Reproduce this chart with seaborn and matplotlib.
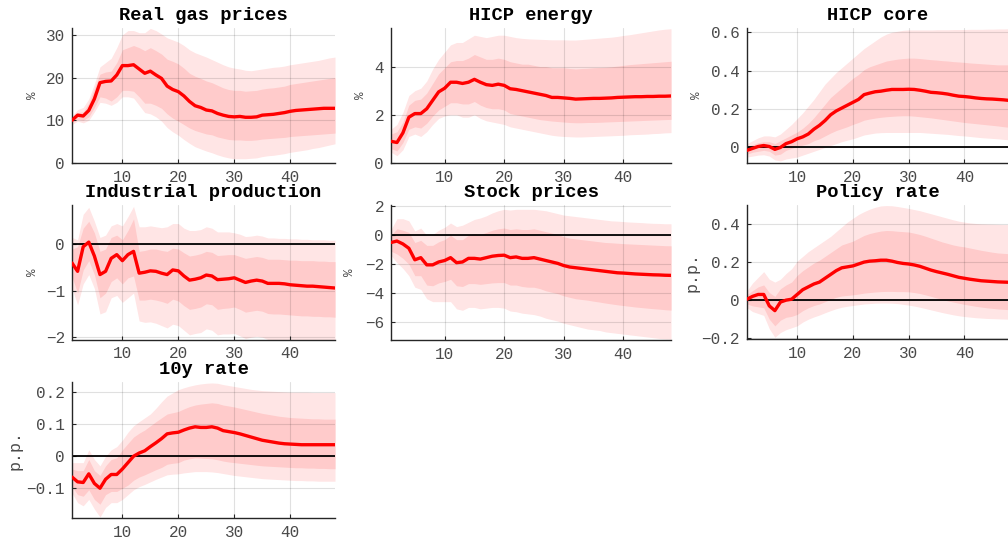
import numpy as np
import pandas as pd
import matplotlib
matplotlib.use("Agg")
import matplotlib.pyplot as plt
import seaborn as sns

# ---------------------------------------------------------------- data
horizon = list(range(1, 49))

gas_med = [10.0, 11.2, 11.0, 12.3, 15.0, 18.8, 19.1, 19.2, 20.6, 22.8,
           22.8, 23.0, 22.0, 21.0, 21.5, 20.6, 19.8, 18.0, 17.2, 16.7,
           15.7, 14.4, 13.4, 13.0, 12.4, 12.2, 11.6, 11.2, 10.9, 10.8,
           10.9, 10.7, 10.7, 10.8, 11.2, 11.3, 11.4, 11.6, 11.8, 12.1,
           12.3, 12.4, 12.5, 12.6, 12.7, 12.8, 12.8, 12.8]
gas_in_hi = [10.5, 11.8, 12.0, 14.0, 17.5, 20.8, 21.3, 21.5, 23.5, 26.5,
             27.0, 27.5, 27.0, 26.3, 27.0, 26.3, 25.5, 24.3, 23.8, 23.2,
             22.2, 21.0, 20.3, 19.8, 19.2, 18.8, 18.2, 17.6, 17.2, 17.0,
             17.0, 16.8, 16.9, 17.0, 17.3, 17.5, 17.6, 17.8, 18.0, 18.4,
             18.6, 18.8, 19.0, 19.2, 19.4, 19.6, 19.8, 20.0]
gas_in_lo = [9.5, 10.2, 10.0, 10.8, 13.0, 15.5, 15.2, 14.5, 15.5, 17.0,
             17.0, 16.8, 15.5, 14.0, 14.0, 13.5, 12.8, 11.5, 10.5, 9.8,
             9.0, 8.2, 7.6, 7.2, 6.8, 6.6, 6.1, 5.8, 5.5, 5.4,
             5.4, 5.3, 5.3, 5.4, 5.6, 5.7, 5.8, 5.9, 6.0, 6.2,
             6.3, 6.4, 6.5, 6.6, 6.7, 6.8, 6.9, 7.0]
gas_out_hi = [11.0, 12.5, 13.0, 15.0, 18.5, 22.5, 23.5, 24.5, 27.0, 30.0,
              31.0, 31.0, 30.5, 30.5, 31.5, 31.0, 30.2, 29.3, 28.8, 28.3,
              27.5, 26.5, 25.8, 25.3, 24.8, 24.2, 23.6, 23.0, 22.5, 22.2,
              22.0, 21.7, 21.6, 21.8, 22.0, 22.2, 22.4, 22.5, 22.7, 23.0,
              23.2, 23.4, 23.6, 23.8, 24.0, 24.3, 24.6, 24.8]
gas_out_lo = [9.0, 9.8, 9.4, 10.0, 12.0, 14.2, 14.0, 13.5, 14.2, 15.5,
              15.5, 15.2, 13.5, 11.8, 11.5, 10.8, 9.8, 8.3, 7.3, 6.5,
              5.5, 4.6, 3.8, 3.3, 2.8, 2.4, 1.9, 1.5, 1.2, 1.0,
              1.0, 1.0, 1.1, 1.2, 1.5, 1.7, 1.8, 2.0, 2.2, 2.5,
              2.7, 2.9, 3.1, 3.4, 3.6, 3.9, 4.2, 4.5]

en_med = [0.90, 0.85, 1.25, 1.90, 2.05, 2.05, 2.25, 2.60, 2.95, 3.10,
          3.35, 3.35, 3.30, 3.35, 3.47, 3.35, 3.25, 3.22, 3.27, 3.22,
          3.08, 3.05, 3.00, 2.95, 2.90, 2.85, 2.80, 2.72, 2.72, 2.70,
          2.68, 2.65, 2.66, 2.67, 2.68, 2.68, 2.69, 2.70, 2.72, 2.73,
          2.74, 2.75, 2.75, 2.76, 2.76, 2.77, 2.77, 2.78]
en_in_hi = [1.20, 1.30, 1.70, 2.40, 2.60, 2.65, 2.90, 3.30, 3.70, 3.95,
            4.20, 4.25, 4.25, 4.35, 4.50, 4.40, 4.30, 4.30, 4.35, 4.30,
            4.20, 4.15, 4.10, 4.10, 4.05, 4.00, 4.00, 3.95, 3.95, 3.95,
            3.92, 3.90, 3.92, 3.93, 3.95, 3.96, 3.97, 3.99, 4.02, 4.05,
            4.08, 4.10, 4.12, 4.14, 4.16, 4.18, 4.20, 4.22]
en_in_lo = [0.60, 0.50, 0.85, 1.40, 1.50, 1.45, 1.65, 1.95, 2.20, 2.35,
            2.50, 2.50, 2.45, 2.45, 2.55, 2.40, 2.30, 2.25, 2.25, 2.20,
            2.05, 2.00, 1.95, 1.90, 1.85, 1.80, 1.77, 1.74, 1.72, 1.70,
            1.68, 1.67, 1.67, 1.68, 1.68, 1.69, 1.70, 1.71, 1.72, 1.73,
            1.74, 1.75, 1.76, 1.77, 1.78, 1.79, 1.80, 1.81]
en_out_hi = [1.40, 1.60, 2.10, 2.80, 3.00, 3.10, 3.40, 3.90, 4.30, 4.60,
             4.90, 5.00, 5.00, 5.15, 5.30, 5.25, 5.20, 5.25, 5.30, 5.30,
             5.25, 5.20, 5.17, 5.15, 5.14, 5.13, 5.12, 5.11, 5.11, 5.11,
             5.10, 5.10, 5.12, 5.14, 5.16, 5.18, 5.20, 5.22, 5.25, 5.29,
             5.32, 5.36, 5.40, 5.44, 5.48, 5.52, 5.55, 5.57]
en_out_lo = [0.45, 0.30, 0.55, 1.10, 1.20, 1.10, 1.30, 1.60, 1.85, 1.95,
             2.00, 2.00, 1.90, 1.90, 2.00, 1.85, 1.75, 1.70, 1.65, 1.60,
             1.50, 1.45, 1.40, 1.35, 1.30, 1.25, 1.20, 1.15, 1.12, 1.10,
             1.09, 1.08, 1.08, 1.09, 1.10, 1.11, 1.12, 1.13, 1.14, 1.15,
             1.17, 1.18, 1.19, 1.20, 1.22, 1.23, 1.25, 1.26]

core_med = [-0.015, -0.005, 0.005, 0.010, 0.005, -0.010, 0.000, 0.020, 0.030, 0.045,
            0.055, 0.070, 0.095, 0.115, 0.140, 0.170, 0.190, 0.205, 0.220, 0.235,
            0.250, 0.275, 0.283, 0.290, 0.293, 0.298, 0.302, 0.302, 0.302, 0.303,
            0.302, 0.298, 0.293, 0.287, 0.285, 0.282, 0.278, 0.272, 0.267, 0.265,
            0.262, 0.258, 0.255, 0.253, 0.252, 0.250, 0.248, 0.245]
core_in_hi = [0.005, 0.015, 0.025, 0.030, 0.030, 0.020, 0.035, 0.050, 0.065, 0.080,
              0.100, 0.125, 0.155, 0.190, 0.225, 0.260, 0.285, 0.310, 0.335, 0.360,
              0.380, 0.405, 0.420, 0.430, 0.440, 0.450, 0.455, 0.460, 0.463, 0.465,
              0.465, 0.463, 0.460, 0.457, 0.455, 0.452, 0.450, 0.447, 0.445, 0.443,
              0.440, 0.438, 0.436, 0.434, 0.432, 0.430, 0.430, 0.430]
core_in_lo = [-0.035, -0.025, -0.020, -0.015, -0.020, -0.040, -0.035, -0.015, -0.005, 0.005,
              0.012, 0.020, 0.035, 0.045, 0.060, 0.075, 0.088, 0.098, 0.108, 0.120,
              0.130, 0.142, 0.148, 0.153, 0.157, 0.160, 0.162, 0.164, 0.165, 0.165,
              0.163, 0.160, 0.157, 0.154, 0.150, 0.146, 0.142, 0.138, 0.134, 0.130,
              0.127, 0.124, 0.121, 0.118, 0.115, 0.112, 0.108, 0.105]
core_out_hi = [0.020, 0.035, 0.050, 0.060, 0.060, 0.055, 0.070, 0.095, 0.120, 0.150,
               0.180, 0.215, 0.250, 0.290, 0.330, 0.360, 0.390, 0.415, 0.440, 0.465,
               0.490, 0.515, 0.535, 0.555, 0.575, 0.590, 0.600, 0.605, 0.610, 0.612,
               0.612, 0.612, 0.612, 0.612, 0.613, 0.613, 0.613, 0.614, 0.614, 0.614,
               0.615, 0.615, 0.615, 0.616, 0.616, 0.617, 0.617, 0.618]
core_out_lo = [-0.050, -0.045, -0.040, -0.038, -0.045, -0.065, -0.070, -0.060, -0.055, -0.050,
               -0.040, -0.030, -0.020, -0.010, 0.000, 0.010, 0.020, 0.030, 0.038, 0.045,
               0.055, 0.065, 0.070, 0.075, 0.077, 0.078, 0.078, 0.078, 0.078, 0.078,
               0.078, 0.078, 0.076, 0.074, 0.072, 0.070, 0.068, 0.065, 0.062, 0.060,
               0.057, 0.054, 0.051, 0.049, 0.047, 0.045, 0.042, 0.040]

ip_med = [-0.40, -0.58, -0.05, 0.05, -0.25, -0.65, -0.58, -0.30, -0.22, -0.35,
          -0.22, -0.15, -0.62, -0.60, -0.57, -0.58, -0.62, -0.65, -0.55, -0.57,
          -0.68, -0.77, -0.75, -0.72, -0.66, -0.68, -0.76, -0.75, -0.74, -0.72,
          -0.77, -0.82, -0.79, -0.77, -0.79, -0.84, -0.84, -0.84, -0.85, -0.87,
          -0.88, -0.89, -0.90, -0.90, -0.91, -0.92, -0.93, -0.94]
ip_in_hi = [-0.10, -0.05, 0.35, 0.50, 0.25, -0.15, -0.10, 0.15, 0.20, 0.10,
            0.30, 0.55, -0.15, -0.13, -0.10, -0.10, -0.13, -0.15, -0.08, -0.10,
            -0.18, -0.25, -0.23, -0.20, -0.15, -0.17, -0.24, -0.23, -0.22, -0.22,
            -0.26, -0.30, -0.28, -0.26, -0.28, -0.32, -0.32, -0.32, -0.33, -0.34,
            -0.34, -0.35, -0.35, -0.35, -0.36, -0.36, -0.37, -0.37]
ip_in_lo = [-0.70, -1.05, -0.55, -0.35, -0.65, -1.15, -1.05, -0.80, -0.72, -0.85,
            -0.72, -0.68, -1.20, -1.20, -1.18, -1.20, -1.23, -1.27, -1.18, -1.22,
            -1.32, -1.40, -1.38, -1.35, -1.28, -1.30, -1.40, -1.38, -1.37, -1.35,
            -1.40, -1.46, -1.44, -1.42, -1.44, -1.49, -1.50, -1.50, -1.51, -1.52,
            -1.53, -1.54, -1.54, -1.55, -1.55, -1.56, -1.56, -1.57]
ip_out_hi = [0.15, 0.10, 0.65, 0.80, 0.50, 0.15, 0.20, 0.40, 0.45, 0.40,
             0.60, 0.82, 0.38, 0.38, 0.40, 0.38, 0.36, 0.38, 0.45, 0.45,
             0.35, 0.30, 0.30, 0.32, 0.38, 0.35, 0.27, 0.27, 0.27, 0.25,
             0.22, 0.17, 0.18, 0.20, 0.18, 0.14, 0.14, 0.13, 0.13, 0.12,
             0.12, 0.11, 0.11, 0.10, 0.10, 0.10, 0.09, 0.09]
ip_out_lo = [-0.95, -1.30, -0.85, -0.65, -0.95, -1.50, -1.45, -1.15, -1.10, -1.25,
             -1.15, -1.05, -1.65, -1.68, -1.67, -1.70, -1.75, -1.80, -1.72, -1.75,
             -1.85, -1.95, -1.92, -1.90, -1.82, -1.85, -1.95, -1.93, -1.93, -1.92,
             -1.97, -2.03, -2.00, -1.98, -2.00, -2.05, -2.06, -2.07, -2.08, -2.09,
             -2.10, -2.11, -2.12, -2.13, -2.14, -2.15, -2.16, -2.17]

st_med = [-0.50, -0.40, -0.60, -0.90, -1.70, -1.55, -2.05, -2.05, -1.85, -1.75,
          -1.55, -1.90, -1.85, -1.60, -1.60, -1.65, -1.55, -1.45, -1.40, -1.38,
          -1.55, -1.50, -1.60, -1.60, -1.55, -1.65, -1.75, -1.85, -1.95, -2.10,
          -2.20, -2.25, -2.30, -2.35, -2.40, -2.45, -2.50, -2.55, -2.60, -2.62,
          -2.65, -2.68, -2.70, -2.72, -2.74, -2.75, -2.77, -2.78]
st_in_hi = [0.00, 0.45, 0.35, 0.20, -0.50, -0.35, -0.70, -0.70, -0.45, -0.30,
            0.00, -0.30, -0.30, 0.00, 0.10, 0.05, 0.20, 0.35, 0.45, 0.50,
            0.40, 0.45, 0.40, 0.40, 0.45, 0.35, 0.25, 0.15, 0.05, -0.10,
            -0.20, -0.25, -0.30, -0.35, -0.40, -0.45, -0.50, -0.52, -0.55, -0.58,
            -0.60, -0.62, -0.64, -0.66, -0.68, -0.70, -0.72, -0.73]
st_in_lo = [-1.10, -1.30, -1.60, -2.00, -2.80, -2.80, -3.45, -3.50, -3.30, -3.20,
            -3.05, -3.50, -3.55, -3.35, -3.35, -3.40, -3.35, -3.30, -3.28, -3.28,
            -3.45, -3.45, -3.55, -3.60, -3.60, -3.70, -3.85, -3.95, -4.05, -4.20,
            -4.30, -4.40, -4.45, -4.50, -4.57, -4.63, -4.70, -4.76, -4.82, -4.87,
            -4.92, -4.97, -5.01, -5.05, -5.09, -5.12, -5.16, -5.19]
st_out_hi = [0.40, 1.15, 1.15, 1.00, 0.30, 0.50, 0.00, 0.05, 0.35, 0.55,
             0.85, 0.60, 0.70, 0.90, 1.10, 1.20, 1.35, 1.55, 1.70, 1.80,
             1.75, 1.80, 1.80, 1.80, 1.80, 1.75, 1.70, 1.60, 1.50, 1.40,
             1.35, 1.30, 1.25, 1.20, 1.15, 1.10, 1.05, 1.00, 0.98, 0.95,
             0.92, 0.90, 0.88, 0.85, 0.83, 0.82, 0.80, 0.80]
st_out_lo = [-1.40, -1.90, -2.30, -2.80, -3.60, -3.75, -4.40, -4.60, -4.60, -4.60,
             -4.60, -5.10, -5.20, -5.00, -5.00, -5.10, -5.05, -5.00, -5.00, -5.05,
             -5.25, -5.30, -5.40, -5.45, -5.50, -5.60, -5.75, -5.85, -5.95, -6.10,
             -6.20, -6.30, -6.40, -6.50, -6.55, -6.60, -6.70, -6.75, -6.80, -6.85,
             -6.90, -6.95, -7.00, -7.05, -7.10, -7.15, -7.18, -7.20]

pr_med = [0.005, 0.020, 0.030, 0.030, -0.030, -0.055, -0.010, 0.000, 0.005, 0.030,
          0.055, 0.070, 0.085, 0.095, 0.115, 0.135, 0.155, 0.170, 0.175, 0.180,
          0.190, 0.200, 0.205, 0.207, 0.210, 0.210, 0.205, 0.198, 0.193, 0.190,
          0.185, 0.178, 0.168, 0.158, 0.150, 0.143, 0.136, 0.128, 0.120, 0.115,
          0.110, 0.106, 0.102, 0.100, 0.098, 0.096, 0.095, 0.094]
pr_in_hi = [0.030, 0.050, 0.070, 0.080, 0.040, 0.020, 0.060, 0.080, 0.095, 0.130,
            0.155, 0.175, 0.195, 0.210, 0.230, 0.250, 0.270, 0.290, 0.300, 0.310,
            0.325, 0.340, 0.350, 0.357, 0.363, 0.366, 0.365, 0.362, 0.360, 0.358,
            0.352, 0.345, 0.336, 0.326, 0.316, 0.306, 0.298, 0.290, 0.284, 0.280,
            0.274, 0.268, 0.262, 0.257, 0.252, 0.248, 0.246, 0.244]
pr_in_lo = [-0.020, -0.030, -0.035, -0.040, -0.100, -0.135, -0.105, -0.090, -0.085, -0.075,
            -0.055, -0.040, -0.028, -0.020, -0.008, 0.005, 0.015, 0.022, 0.025, 0.028,
            0.032, 0.037, 0.040, 0.043, 0.045, 0.046, 0.046, 0.045, 0.045, 0.044,
            0.040, 0.035, 0.028, 0.020, 0.012, 0.004, -0.004, -0.010, -0.016, -0.022,
            -0.027, -0.032, -0.036, -0.040, -0.043, -0.046, -0.048, -0.050]
pr_out_hi = [0.050, 0.090, 0.120, 0.150, 0.110, 0.095, 0.110, 0.140, 0.165, 0.205,
             0.230, 0.255, 0.275, 0.295, 0.315, 0.335, 0.360, 0.385, 0.410, 0.430,
             0.450, 0.465, 0.478, 0.488, 0.495, 0.497, 0.496, 0.492, 0.487, 0.482,
             0.476, 0.470, 0.462, 0.454, 0.446, 0.438, 0.430, 0.422, 0.415, 0.410,
             0.406, 0.403, 0.401, 0.400, 0.399, 0.398, 0.397, 0.397]
pr_out_lo = [-0.040, -0.060, -0.070, -0.080, -0.150, -0.195, -0.170, -0.155, -0.145, -0.135,
             -0.115, -0.100, -0.088, -0.078, -0.066, -0.055, -0.045, -0.037, -0.032, -0.028,
             -0.024, -0.020, -0.018, -0.016, -0.015, -0.015, -0.016, -0.018, -0.022, -0.026,
             -0.031, -0.037, -0.044, -0.051, -0.058, -0.065, -0.071, -0.077, -0.082, -0.086,
             -0.089, -0.092, -0.094, -0.096, -0.097, -0.098, -0.099, -0.100]

ty_med = [-0.065, -0.080, -0.082, -0.055, -0.085, -0.100, -0.072, -0.057, -0.057, -0.040,
          -0.020, 0.000, 0.010, 0.017, 0.030, 0.042, 0.055, 0.070, 0.073, 0.075,
          0.082, 0.088, 0.092, 0.090, 0.090, 0.092, 0.088, 0.080, 0.077, 0.074,
          0.070, 0.065, 0.060, 0.055, 0.050, 0.047, 0.044, 0.041, 0.039, 0.038,
          0.037, 0.036, 0.036, 0.036, 0.036, 0.036, 0.036, 0.036]
ty_in_hi = [-0.040, -0.045, -0.045, -0.010, -0.045, -0.060, -0.030, -0.010, -0.005, 0.020,
            0.040, 0.060, 0.072, 0.082, 0.095, 0.108, 0.120, 0.132, 0.136, 0.140,
            0.148, 0.155, 0.160, 0.163, 0.165, 0.167, 0.165, 0.160, 0.157, 0.154,
            0.150, 0.146, 0.142, 0.138, 0.134, 0.131, 0.128, 0.125, 0.123, 0.121,
            0.120, 0.119, 0.118, 0.117, 0.117, 0.116, 0.116, 0.116]
ty_in_lo = [-0.095, -0.120, -0.125, -0.105, -0.135, -0.150, -0.120, -0.110, -0.110, -0.100,
            -0.090, -0.075, -0.065, -0.058, -0.050, -0.042, -0.035, -0.025, -0.022, -0.020,
            -0.012, -0.008, -0.005, -0.006, -0.007, -0.008, -0.011, -0.015, -0.018, -0.020,
            -0.022, -0.024, -0.026, -0.028, -0.030, -0.031, -0.032, -0.033, -0.034, -0.035,
            -0.036, -0.036, -0.037, -0.037, -0.038, -0.038, -0.039, -0.039]
ty_out_hi = [-0.020, -0.020, -0.020, 0.020, -0.010, -0.030, 0.000, 0.020, 0.030, 0.050,
             0.075, 0.095, 0.108, 0.120, 0.132, 0.150, 0.170, 0.188, 0.198, 0.208,
             0.214, 0.219, 0.223, 0.226, 0.228, 0.229, 0.228, 0.224, 0.221, 0.218,
             0.215, 0.212, 0.209, 0.207, 0.205, 0.204, 0.203, 0.202, 0.201, 0.200,
             0.200, 0.200, 0.200, 0.199, 0.199, 0.199, 0.199, 0.199]
ty_out_lo = [-0.115, -0.145, -0.155, -0.135, -0.165, -0.190, -0.160, -0.145, -0.145, -0.135,
             -0.120, -0.105, -0.095, -0.088, -0.080, -0.072, -0.065, -0.058, -0.056, -0.055,
             -0.052, -0.050, -0.048, -0.048, -0.048, -0.049, -0.051, -0.054, -0.057, -0.060,
             -0.062, -0.064, -0.066, -0.068, -0.070, -0.071, -0.072, -0.073, -0.074, -0.075,
             -0.076, -0.076, -0.077, -0.077, -0.078, -0.078, -0.078, -0.078]

titles = ["Real gas prices", "HICP energy", "HICP core",
          "Industrial production", "Stock prices", "Policy rate", "10y rate"]
units = ["%", "%", "%", "%", "%", "p.p.", "p.p."]
yticks = [[0, 10, 20, 30], [0, 2, 4], [0, 0.2, 0.4, 0.6],
          [-2, -1, 0], [-6, -4, -2, 0, 2], [-0.2, 0, 0.2, 0.4],
          [-0.1, 0, 0.1, 0.2]]
xticks = [10, 20, 30, 40]

series = [
    (gas_med, gas_in_lo, gas_in_hi, gas_out_lo, gas_out_hi),
    (en_med, en_in_lo, en_in_hi, en_out_lo, en_out_hi),
    (core_med, core_in_lo, core_in_hi, core_out_lo, core_out_hi),
    (ip_med, ip_in_lo, ip_in_hi, ip_out_lo, ip_out_hi),
    (st_med, st_in_lo, st_in_hi, st_out_lo, st_out_hi),
    (pr_med, pr_in_lo, pr_in_hi, pr_out_lo, pr_out_hi),
    (ty_med, ty_in_lo, ty_in_hi, ty_out_lo, ty_out_hi),
]

# ---------------------------------------------------------------- layout
W, H = 1008, 539
# axes boxes in pixels: (left, top, right, bottom)
boxes = [(72, 28, 335, 163), (391, 28, 671, 163), (747, 28, 1009, 163),
         (72, 205, 335, 339.5), (391, 205, 671, 340), (747, 205, 1009, 339),
         (72, 382, 335, 518)]
ylims = [(0, 31.6), (0, 5.6), (-0.081, 0.622),
         (-2.05, 0.85), (-7.26, 2.1), (-0.204, 0.50),
         (-0.193, 0.232)]
label_x = [33, 361, 697, 33, 350, 692, 15]

sns.set_theme(style="white")
plt.rcParams["font.family"] = ["Liberation Mono", "DejaVu Sans Mono"]
plt.rcParams["axes.unicode_minus"] = True

OUTER = "#ffe5e5"
INNER = "#ffcbcb"
LINE = "#ff0000"
TICK_COLOR = "#4a4a4a"
SPINE = "#262626"


def fmt(v, _pos=None):
    s = f"{v:g}"
    return s.replace("-", "\u2212")


fig = plt.figure(figsize=(W / 100, H / 100), dpi=100)
fig.patch.set_facecolor("white")

for i, (title, unit, (med, ilo, ihi, olo, ohi)) in enumerate(zip(titles, units, series)):
    x0, y0, x1, y1 = boxes[i]
    ax = fig.add_axes([x0 / W, 1 - y1 / H, (x1 - x0) / W, (y1 - y0) / H])
    df = pd.DataFrame({"h": horizon, "med": med, "ilo": ilo, "ihi": ihi,
                       "olo": olo, "ohi": ohi})

    ax.fill_between(df["h"], df["olo"], df["ohi"], color=OUTER, lw=0, zorder=1)
    ax.fill_between(df["h"], df["ilo"], df["ihi"], color=INNER, lw=0, zorder=1.1)
    lo, hi = ylims[i]
    if lo < 0 < hi:
        ax.axhline(0, color="black", lw=1.3, zorder=2.5)
    sns.lineplot(data=df, x="h", y="med", ax=ax, color=LINE, lw=2.4,
                 zorder=3, legend=False)

    ax.set_xlim(1, 48)
    ax.set_ylim(lo, hi)
    ax.set_xticks(xticks)
    ax.set_yticks(yticks[i])
    ax.yaxis.set_major_formatter(matplotlib.ticker.FuncFormatter(fmt))
    ax.xaxis.set_major_formatter(matplotlib.ticker.FuncFormatter(fmt))
    ax.set_xlabel("")
    ax.set_ylabel("")

    ax.grid(True, color="black", alpha=0.12, lw=0.8)
    ax.set_axisbelow("line")
    for side in ("top", "right"):
        ax.spines[side].set_visible(False)
    for side in ("left", "bottom"):
        ax.spines[side].set_color(SPINE)
        ax.spines[side].set_linewidth(1.0)
    ax.tick_params(axis="both", direction="in", length=3, width=0.8,
                   color=SPINE, labelsize=11.5, labelcolor=TICK_COLOR, pad=5,
                   left=True, bottom=True)
    ax.set_facecolor("white")

    ax.set_title(title, fontsize=13.5, fontweight="bold", color="black", pad=6)

    yc = (y0 + y1) / 2
    size = 9 if unit == "%" else 12
    fig.text(label_x[i] / W, 1 - yc / H, unit, rotation=90, ha="center",
             va="center", fontsize=size, color=TICK_COLOR)

fig.savefig("out.png", dpi=100, facecolor="white")
